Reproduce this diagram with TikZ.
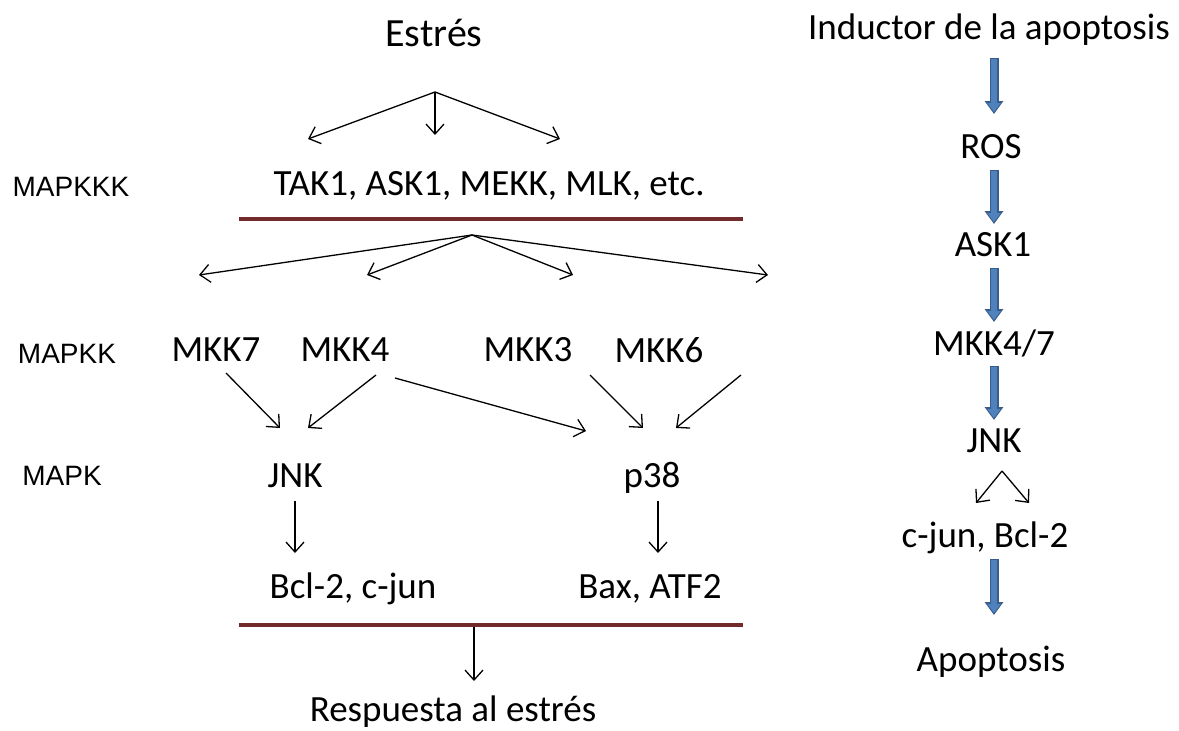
\documentclass[tikz,border=0pt]{standalone}
\usepackage{fontspec}
\setmainfont{Carlito}
\newfontfamily\arialf{Liberation Sans}
\usetikzlibrary{arrows.meta}
\definecolor{barred}{HTML}{722A2A}
\definecolor{blockblue}{HTML}{4F81BD}
\definecolor{blockdark}{HTML}{385D8A}
\tikzset{
  lbl/.style={inner sep=0pt, font=\fontsize{37}{42}\selectfont},
  lvl/.style={inner sep=0pt, font=\arialf\fontsize{28}{32}\selectfont},
  thinarr/.style={line width=1.3pt, -{Straight Barb[length=10pt,width=18pt]}},
  barout/.style={line width=9pt, blockdark, -{Triangle[width=18pt,length=13pt]}},
  barin/.style={line width=6pt, blockblue, shorten >=2pt, shorten <=1pt, -{Triangle[width=13pt,length=9pt]}},
  redbar/.style={line width=4pt, barred},
}
\begin{document}
\begin{tikzpicture}[x=1pt,y=-1pt]
\useasboundingbox (0,0) rectangle (1179,731);
% left column texts
\node[lbl, font=\fontsize{40}{46}\selectfont] (estres) at (434,33) {Estrés};
\node[lbl] (mapkkk) at (489,186) {TAK1, ASK1, MEKK, MLK, etc.};
\node[lvl] (lkkk) at (71,187) {MAPKKK};
\node[lvl] (lkk) at (67,354) {MAPKK};
\node[lvl] (lk) at (62,476) {MAPK};
\node[lbl] (mkk7) at (216,350) {MKK7};
\node[lbl] (mkk4) at (345,350) {MKK4};
\node[lbl] (mkk3) at (528,350) {MKK3};
\node[lbl] (mkk6) at (659,350) {MKK6};
\node[lbl] (jnk) at (295,476) {JNK};
\node[lbl] (p38) at (652,478) {p38};
\node[lbl] (bcl) at (353,589) {Bcl-2, c-jun};
\node[lbl] (bax) at (650,589) {Bax, ATF2};
\node[lbl] (resp) at (453,712) {Respuesta al estrés};
% bars
\coordinate (b1l) at (239,219); \coordinate (b1r) at (743,219);
\coordinate (b2l) at (239,625); \coordinate (b2r) at (743,625);
\draw[redbar] (b1l) -- (b1r);
\draw[redbar] (b2l) -- (b2r);
% top fan
\coordinate (s0) at (435,92);
\coordinate (s1) at (308,139);
\coordinate (s2) at (435,135);
\coordinate (s3) at (560,139);
\draw[thinarr] (s0) -- (s1);
\draw[thinarr] (s0) -- (s2);
\draw[thinarr] (s0) -- (s3);
% second fan
\coordinate (f0) at (472,235);
\coordinate (f1) at (199,275);
\coordinate (f2) at (367,275);
\coordinate (f3) at (573,275);
\coordinate (f4) at (768,275);
\draw[thinarr] (f0) -- (f1);
\draw[thinarr] (f0) -- (f2);
\draw[thinarr] (f0) -- (f3);
\draw[thinarr] (f0) -- (f4);
% MAPKK -> MAPK
\coordinate (a7) at (226,373); \coordinate (j1) at (280,428);
\coordinate (a4) at (376,375); \coordinate (j2) at (308,428);
\coordinate (a4b) at (395,378); \coordinate (p1) at (586,431);
\coordinate (a3) at (590,375); \coordinate (p2) at (643,428);
\coordinate (a6) at (741,375); \coordinate (p3) at (676,428);
\draw[thinarr] (a7) -- (j1);
\draw[thinarr] (a4) -- (j2);
\draw[thinarr] (a4b) -- (p1);
\draw[thinarr] (a3) -- (p2);
\draw[thinarr] (a6) -- (p3);
% MAPK -> targets
\coordinate (jd0) at (295,501); \coordinate (jd1) at (295,553);
\coordinate (pd0) at (658,501); \coordinate (pd1) at (658,553);
\draw[thinarr] (jd0) -- (jd1);
\draw[thinarr] (pd0) -- (pd1);
\coordinate (r0) at (474,627); \coordinate (r1) at (474,681);
\draw[thinarr] (r0) -- (r1);
% right column
\node[lbl] (ind) at (989,30) {Inductor de la apoptosis};
\node[lbl] (ros) at (991,147) {ROS};
\node[lbl] (ask) at (993,245) {ASK1};
\node[lbl] (mkk47) at (994,343) {MKK4/7};
\node[lbl] (jnkr) at (994,441) {JNK};
\node[lbl] (cjun) at (985,538) {c-jun, Bcl-2};
\node[lbl] (apo) at (991,662) {Apoptosis};
\coordinate (q0) at (994,58);  \coordinate (q1) at (994,114);
\coordinate (q2) at (994,170); \coordinate (q3) at (994,224);
\coordinate (q4) at (994,268); \coordinate (q5) at (994,322);
\coordinate (q6) at (994,366); \coordinate (q7) at (994,420);
\coordinate (q8) at (994,559); \coordinate (q9) at (994,615);
\foreach \a/\b in {q0/q1,q2/q3,q4/q5,q6/q7,q8/q9}{
  \draw[barout] (\a) -- (\b);
  \draw[barin] (\a) -- (\b);
}
\coordinate (k0) at (1002,471); \coordinate (k1) at (976,503); \coordinate (k2) at (1029,503);
\draw[thinarr] (k0) -- (k1);
\draw[thinarr] (k0) -- (k2);
\end{tikzpicture}
\end{document}
